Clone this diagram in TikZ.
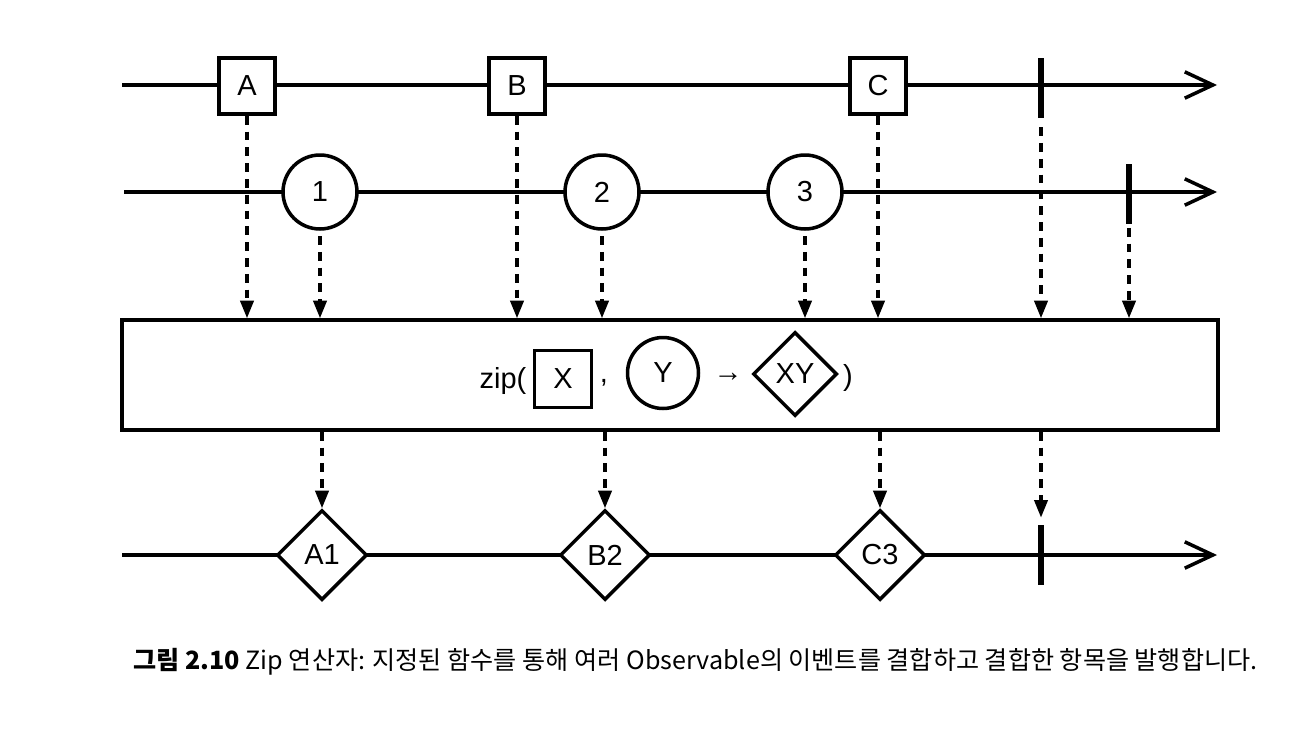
\documentclass[tikz,border=0pt]{standalone}
\usepackage{fontspec}
\setmainfont{Liberation Sans}
\newfontfamily\kr{Noto Sans CJK KR}
\usetikzlibrary{arrows.meta,shapes.geometric}
\begin{document}
\begin{tikzpicture}[x=0.02cm,y=-0.02cm,
  lbl/.style={font=\fontsize{16.5}{18}\selectfont},
  tline/.style={line width=2pt,-{Straight Barb[length=16pt,width=15pt]}},
  flow/.style={line width=1.9pt,dash pattern=on 5pt off 4pt,-{Triangle[length=10pt,width=7.5pt]}},
  sq/.style={draw,fill=white,line width=2pt,minimum size=1.12cm,inner sep=0pt,lbl},
  circ/.style={circle,draw,fill=white,line width=2pt,minimum size=1.48cm,inner sep=0pt,lbl},
  dia/.style={diamond,draw,fill=white,line width=2pt,minimum width=1.8cm,minimum height=1.8cm,inner sep=0pt,lbl},
  endbar/.style={fill=black,minimum width=0.12cm,minimum height=1.2cm,inner sep=0pt},
  opbox/.style={draw,line width=2pt,minimum width=21.92cm,minimum height=2.2cm,inner sep=0pt}
]
\useasboundingbox (0,0) rectangle (1308,744);
% timelines
\coordinate (r1s) at (122,85);  \coordinate (r1e) at (1217,85);
\coordinate (r2s) at (124,192); \coordinate (r2e) at (1217,192);
\coordinate (r3s) at (122,555); \coordinate (r3e) at (1217,555);
\draw[tline] (r1s) -- (r1e);
\draw[tline] (r2s) -- (r2e);
\draw[tline] (r3s) -- (r3e);
% row 1
\node[sq] (A) at (247,86) {A};
\node[sq] (B) at (517,86) {B};
\node[sq] (C) at (878,86) {C};
\node[endbar] (e1) at (1041,88) {};
% row 2
\node[circ] (n1) at (320,192) {1};
\node[circ] (n2) at (602,192) {2};
\node[circ] (n3) at (805,192) {3};
\node[endbar] (e2) at (1129,194) {};
% operator box
\node[opbox] (op) at (670,375) {};
\node[lbl] (zp) at (503,381) {zip(};
\node[sq,minimum size=1.14cm] (X) at (563,379) {X};
\node[lbl] (cm) at (604,383) {,};
\node[circ,minimum size=1.42cm] (Y) at (663,373) {Y};
\node[lbl] (ar) at (728,377) {→};
\node[dia,minimum width=1.68cm,minimum height=1.68cm] (XY) at (795,374) {XY};
\node[lbl] (cp) at (848,378) {)};
% row 3
\node[dia] (A1) at (322,555) {A1};
\node[dia] (B2) at (605,555) {B2};
\node[dia] (C3) at (880,555) {C3};
\node[endbar] (e3) at (1041,555) {};
% flows into operator
\draw[flow] (A.south) -- (A.south |- op.north);
\draw[flow,shorten <=3pt] (n1.south) -- (n1.south |- op.north);
\draw[flow] (B.south) -- (B.south |- op.north);
\draw[flow,shorten <=3pt] (n2.south) -- (n2.south |- op.north);
\draw[flow,shorten <=3pt] (n3.south) -- (n3.south |- op.north);
\draw[flow] (C.south) -- (C.south |- op.north);
\draw[flow,shorten <=5pt] (e1.south) -- (e1.south |- op.north);
\draw[flow,shorten <=2pt] (e2.south) -- (e2.south |- op.north);
% flows out of operator
\draw[flow] (A1.north |- op.south) -- (A1.north);
\draw[flow] (B2.north |- op.south) -- (B2.north);
\draw[flow] (C3.north |- op.south) -- (C3.north);
\draw[flow,shorten >=4pt] (e3.north |- op.south) -- (e3.north);
% caption
\node[anchor=west,inner sep=0pt,font=\kr\fontsize{14.3}{16}\selectfont] (cap) at (133,662)
  {{\bfseries 그림 2.10} Zip 연산자: 지정된 함수를 통해 여러 Observable의 이벤트를 결합하고 결합한 항목을 발행합니다.};
\end{tikzpicture}
\end{document}
